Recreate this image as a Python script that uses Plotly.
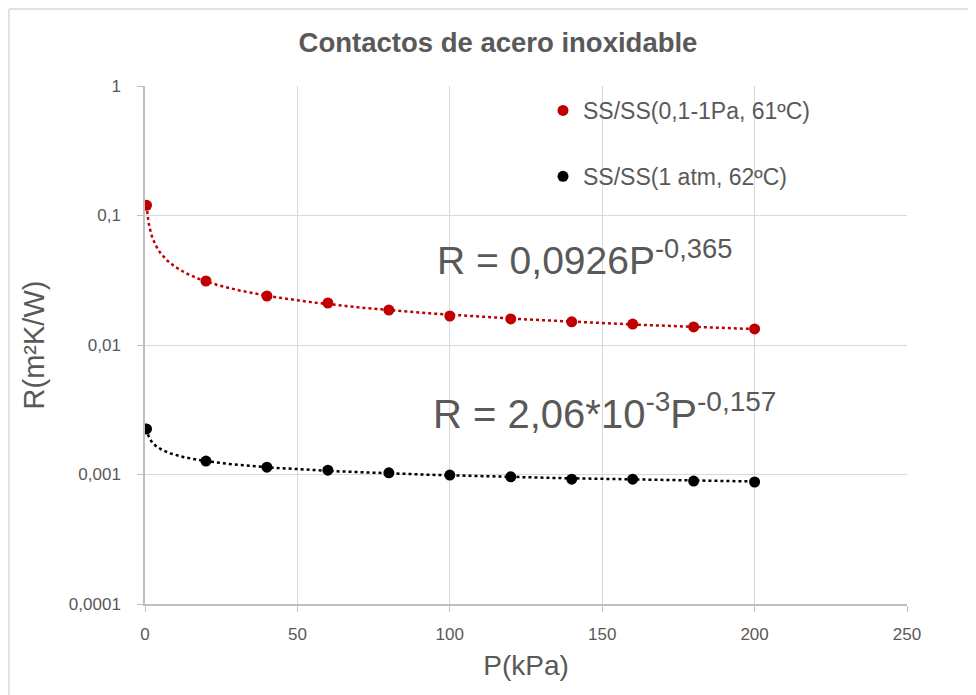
import numpy as np
import plotly.graph_objects as go

# ---- data ----
p_kpa = [0.5, 20, 40, 60, 80, 100, 120, 140, 160, 180, 200]
r_vacuum = [0.120, 0.0312, 0.0239, 0.0211, 0.0186, 0.01675, 0.0159, 0.0151, 0.0145, 0.0138, 0.0133]
r_atm = [0.00225, 0.00127, 0.00114, 0.00108, 0.00103, 0.00099, 0.00096, 0.00092, 0.00092, 0.00089, 0.000875]

name_vacuum = "SS/SS(0,1-1Pa, 61ºC)"
name_atm = "SS/SS(1 atm, 62ºC)"
eq_vacuum = "R = 0,0926P<sup>-0,365</sup>"
eq_atm = "R = 2,06*10<sup>-3</sup>P<sup>-0,157</sup>"

y_tickvals = [1e-4, 1e-3, 1e-2, 1e-1, 1]
y_ticktext = ["0,0001", "0,001", "0,01", "0,1", "1"]
x_tickvals = [0, 50, 100, 150, 200, 250]

RED = "#c00000"
BLACK = "#000000"
GRAY_TXT = "#595959"
FONT = "Liberation Sans"

# page is offset by the 8px body margin
W, H = 968, 687
L, T = 137, 78
PW, PH = 762, 518


def power_fit(x, y):
    b, ln_a = np.polyfit(np.log(x), np.log(y), 1)
    xs = np.geomspace(min(x), max(x), 300)
    return xs, np.exp(ln_a) * xs ** b


def px(page_x):
    return (page_x - 8 - L) / PW


def py(page_y):
    return (T + PH - (page_y - 8)) / PH


fig = go.Figure()

for x, y, color, name, grp in [(p_kpa, r_vacuum, RED, name_vacuum, "a"),
                               (p_kpa, r_atm, BLACK, name_atm, "b")]:
    xs, ys = power_fit(np.array(x), np.array(y))
    fig.add_trace(go.Scatter(x=xs, y=ys, mode="lines", showlegend=False,
                             line=dict(color=color, width=2.5, dash="dot"),
                             hoverinfo="skip"))
    fig.add_trace(go.Scatter(x=x, y=y, mode="markers", name=name, legendgroup=grp,
                             marker=dict(color=color, size=11)))

fig.update_layout(
    width=W, height=H,
    margin=dict(l=L, r=W - L - PW, t=T, b=H - T - PH),
    paper_bgcolor="white", plot_bgcolor="white",
    font=dict(family=FONT, color=GRAY_TXT),
    title=dict(text="<b>Contactos de acero inoxidable</b>", x=(498 - 8) / W, xanchor="center",
               y=1 - (42 - 8) / H, yanchor="middle",
               font=dict(size=27.5, color=GRAY_TXT, family=FONT)),
    legend=dict(x=px(543), y=py(89), xanchor="left", yanchor="top",
                bgcolor="rgba(0,0,0,0)", font=dict(size=23, color=GRAY_TXT, family=FONT),
                tracegroupgap=33, itemwidth=30),
    showlegend=True,
)

fig.update_xaxes(range=[0, 250], tickvals=x_tickvals, showgrid=True, gridcolor="#d9d9d9",
                 gridwidth=1, showline=True, linecolor="#bfbfbf", linewidth=1.5,
                 ticks="outside", ticklen=6, tickcolor="#bfbfbf",
                 tickfont=dict(size=17, color=GRAY_TXT), ticklabelstandoff=8,
                 zeroline=False,
                 title=dict(text="P(kPa)", font=dict(size=28, color=GRAY_TXT), standoff=12))

fig.update_yaxes(type="log", range=[-4, 0], tickvals=y_tickvals, ticktext=y_ticktext,
                 showgrid=True, gridcolor="#d9d9d9", gridwidth=1,
                 showline=True, linecolor="#bfbfbf", linewidth=1.5,
                 ticks="outside", ticklen=6, tickcolor="#bfbfbf",
                 tickfont=dict(size=17, color=GRAY_TXT), ticklabelstandoff=13,
                 title=dict(text="R(m²K/W)", font=dict(size=29, color=GRAY_TXT), standoff=16))

fig.add_annotation(text=eq_vacuum, xref="paper", yref="paper",
                   x=px(435), y=py(257), xanchor="left", yanchor="middle",
                   showarrow=False, font=dict(size=39, color=GRAY_TXT, family=FONT))
fig.add_annotation(text=eq_atm, xref="paper", yref="paper",
                   x=px(431), y=py(411), xanchor="left", yanchor="middle",
                   showarrow=False, font=dict(size=40, color=GRAY_TXT, family=FONT))

# chart-area border (Excel style): left and top edges only are visible
border = dict(color="#d9d9d9", width=1.5)
fig.add_shape(type="line", xref="paper", yref="paper",
              x0=px(9), x1=px(9), y0=py(700), y1=py(9), line=border, layer="below")
fig.add_shape(type="line", xref="paper", yref="paper",
              x0=px(9), x1=px(976), y0=py(9), y1=py(9), line=border, layer="below")

fig.write_html("out.html")
